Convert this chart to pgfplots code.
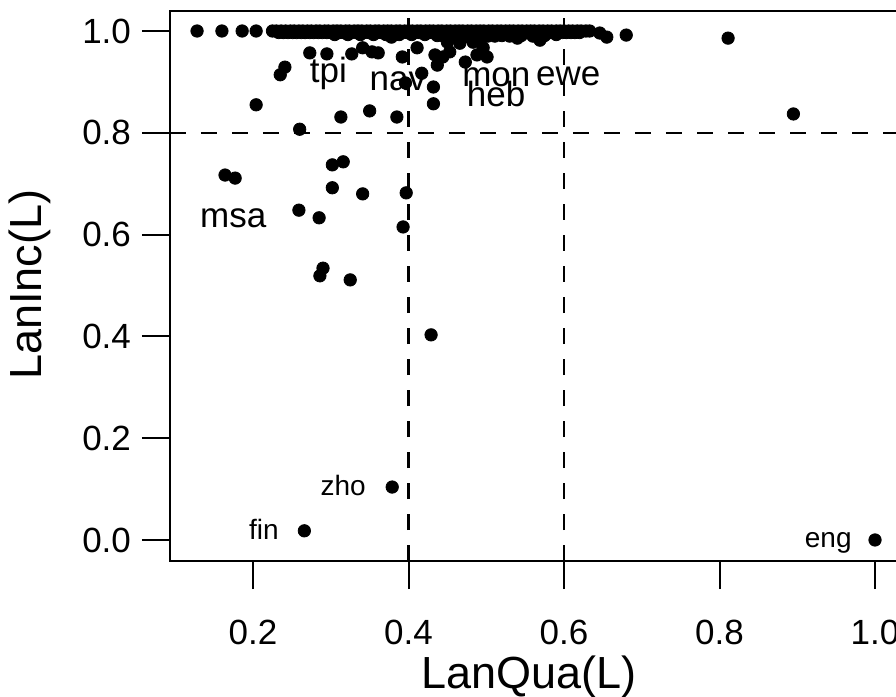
\documentclass[border=0pt]{standalone}
\usepackage{fontspec}
\setmainfont{Liberation Sans}
\usepackage{pgfplots}
\pgfplotsset{compat=1.18}

\newcommand{\lblbig}{\fontsize{17.5}{18}\selectfont}
\newcommand{\lblsmall}{\fontsize{14}{15}\selectfont}

\begin{document}
\begin{tikzpicture}
\useasboundingbox (-85pt,-68pt) rectangle (363pt,280.5pt);
\begin{axis}[
    at={(0,0)}, anchor=south west,
    width=366pt, height=275pt, scale only axis,
    xmin=0.0932, xmax=1.0347,
    ymin=-0.0413, ymax=1.0393,
    xtick={0.2,0.4,0.6,0.8,1.0},
    ytick={0,0.2,0.4,0.6,0.8,1.0},
    tick align=outside, major tick length=14pt,
    xtick pos=bottom, ytick pos=left,
    axis line style={line width=1pt},
    every tick/.style={line width=1pt, black},
    /pgf/number format/assume math mode=true,
    /pgf/number format/.cd, fixed, fixed zerofill, precision=1, /pgfplots/.cd,
    ticklabel style={font=\lblbig},
    xticklabel style={yshift=-12pt},
    yticklabel style={xshift=-2pt},
    xlabel={LanQua(L)}, ylabel={LanInc(L)},
    label style={font=\fontsize{22.5}{24}\selectfont},
    xlabel style={at={(axis description cs:0.49,-0.21)}, anchor=center},
    ylabel style={at={(axis description cs:-0.191,0.502)}, anchor=center},
]
% reference lines
\addplot [black, line width=1.1pt, dash pattern=on 8pt off 7.5pt] coordinates {(0.0932,0.8) (1.0347,0.8)};
\addplot [black, line width=1.1pt, dash pattern=on 8pt off 7.5pt] coordinates {(0.4,-0.0413) (0.4,1.0393)};
\addplot [black, line width=1.1pt, dash pattern=on 8pt off 7.5pt] coordinates {(0.6,-0.0413) (0.6,1.0393)};

% languages
\addplot [only marks, mark=*, mark size=3.1pt, black] coordinates {
(0.128,1.0) (0.160,1.0) (0.186,1.0) (0.204,1.0)
(0.225,1.0) (0.230,1.0) (0.236,1.0) (0.242,1.0) (0.248,1.0) (0.253,1.0) (0.259,1.0)
(0.264,1.0) (0.270,1.0) (0.275,1.0) (0.281,1.0) (0.286,1.0) (0.292,1.0) (0.297,1.0)
(0.303,1.0) (0.308,1.0) (0.313,1.0) (0.319,1.0) (0.324,1.0) (0.330,1.0) (0.335,1.0)
(0.340,1.0) (0.346,1.0) (0.351,1.0) (0.357,1.0) (0.362,1.0) (0.368,1.0) (0.373,1.0)
(0.378,1.0) (0.384,1.0) (0.389,1.0) (0.395,1.0) (0.400,1.0) (0.405,1.0) (0.411,1.0)
(0.416,1.0) (0.422,1.0) (0.427,1.0) (0.432,1.0) (0.438,1.0) (0.443,1.0) (0.449,1.0)
(0.454,1.0) (0.460,1.0) (0.465,1.0) (0.470,1.0) (0.476,1.0) (0.481,1.0) (0.487,1.0)
(0.492,1.0) (0.497,1.0) (0.503,1.0) (0.508,1.0) (0.514,1.0) (0.519,1.0) (0.525,1.0)
(0.530,1.0) (0.535,1.0) (0.541,1.0) (0.546,1.0) (0.552,1.0) (0.557,1.0) (0.562,1.0)
(0.568,1.0) (0.573,1.0) (0.579,1.0) (0.584,1.0) (0.590,1.0) (0.595,1.0) (0.600,1.0)
(0.606,1.0) (0.611,1.0) (0.617,1.0) (0.622,1.0) (0.628,1.0) (0.633,1.0)
(0.233,0.997) (0.239,0.997) (0.245,0.997) (0.251,0.997) (0.256,0.997) (0.262,0.997)
(0.267,0.997) (0.273,0.997) (0.278,0.997) (0.284,0.997) (0.289,0.997) (0.295,0.997)
(0.300,0.997) (0.306,0.997) (0.311,0.997) (0.316,0.997) (0.322,0.997) (0.327,0.997)
(0.333,0.997) (0.338,0.997) (0.343,0.997) (0.349,0.997) (0.354,0.997) (0.360,0.997)
(0.365,0.997) (0.371,0.997) (0.376,0.997) (0.381,0.997) (0.387,0.997) (0.392,0.997)
(0.398,0.997) (0.403,0.997) (0.408,0.997) (0.414,0.997) (0.419,0.997) (0.425,0.997)
(0.430,0.997) (0.435,0.997) (0.441,0.997) (0.446,0.997) (0.452,0.997) (0.457,0.997)
(0.463,0.997) (0.468,0.997) (0.473,0.997) (0.479,0.997) (0.484,0.997) (0.490,0.997)
(0.495,0.997) (0.500,0.997) (0.506,0.997) (0.511,0.997) (0.517,0.997) (0.522,0.997)
(0.527,0.997) (0.533,0.997) (0.538,0.997) (0.544,0.997) (0.549,0.997) (0.555,0.997)
(0.560,0.997) (0.565,0.997) (0.571,0.997) (0.576,0.997) (0.582,0.997) (0.587,0.997)
(0.592,0.997) (0.598,0.997) (0.603,0.997) (0.609,0.997) (0.614,0.997) (0.620,0.997)
(0.305,0.993) (0.322,0.993) (0.338,0.993) (0.355,0.993) (0.371,0.993) (0.388,0.993)
(0.404,0.993) (0.421,0.993) (0.437,0.991) (0.445,0.990) (0.453,0.990) (0.462,0.988)
(0.470,0.990) (0.478,0.988) (0.486,0.990) (0.494,0.988) (0.502,0.990) (0.511,0.990)
(0.520,0.991) (0.530,0.990) (0.545,0.991) (0.560,0.990) (0.575,0.991) (0.590,0.993)
(0.378,0.988) (0.540,0.986) (0.569,0.982)
(0.646,0.996) (0.655,0.988) (0.680,0.992) (0.811,0.986) (0.895,0.837)
(0.450,0.978) (0.466,0.976) (0.483,0.978) (0.496,0.967) (0.501,0.949) (0.473,0.939)
(0.488,0.953) (0.453,0.959)
(0.273,0.957) (0.295,0.955) (0.327,0.955) (0.341,0.967) (0.353,0.959) (0.361,0.957)
(0.392,0.949) (0.411,0.967) (0.417,0.917) (0.434,0.953) (0.432,0.890) (0.432,0.857)
(0.396,0.898) (0.444,0.949) (0.437,0.933)
(0.235,0.914) (0.241,0.929) (0.204,0.855)
(0.313,0.831) (0.350,0.843) (0.385,0.831) (0.260,0.807)
(0.164,0.717) (0.177,0.711) (0.302,0.737) (0.316,0.743) (0.302,0.692) (0.341,0.680)
(0.397,0.682) (0.259,0.648) (0.285,0.633) (0.393,0.615) (0.290,0.534) (0.286,0.519)
(0.325,0.511) (0.429,0.403)
(0.379,0.104) (0.266,0.018) (1.0,0.0)
};

\node [anchor=base west, font=\lblbig] at (axis cs:0.264,0.898) {tpi};
\node [anchor=base west, font=\lblbig] at (axis cs:0.341,0.884) {nav};
\node [anchor=base west, font=\lblbig] at (axis cs:0.460,0.890) {mon};
\node [anchor=base west, font=\lblbig] at (axis cs:0.555,0.892) {ewe};
\node [anchor=base west, font=\lblbig] at (axis cs:0.466,0.851) {heb};
\node [anchor=base west, font=\lblbig] at (axis cs:0.123,0.613) {msa};
\node [anchor=base east, font=\lblsmall] at (axis cs:0.354,0.088) {zho};
\node [anchor=base east, font=\lblsmall] at (axis cs:0.242,0.0) {fin};
\node [anchor=base east, font=\lblsmall] at (axis cs:0.979,-0.014) {eng};
\end{axis}
\end{tikzpicture}
\end{document}
